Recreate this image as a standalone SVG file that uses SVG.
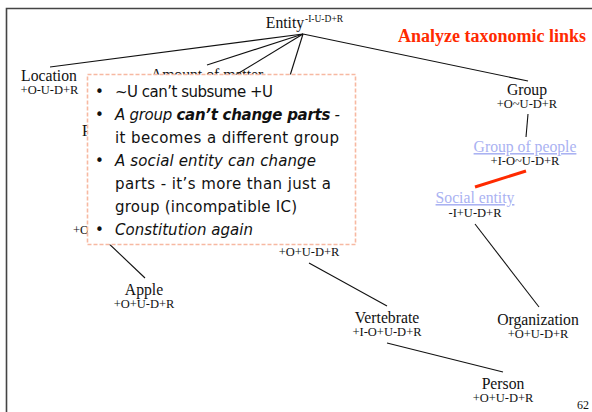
<svg xmlns="http://www.w3.org/2000/svg" width="592" height="412" viewBox="0 0 592 412">
  <style>
    .lbl { font-family: "Liberation Serif", "Times New Roman", serif; font-size: 15.7px; fill: #111; text-anchor: middle; }
    .sub { font-family: "Liberation Serif", "Times New Roman", serif; font-size: 12.5px; fill: #111; text-anchor: middle; }
    .start { text-anchor: start; }
    .link { fill: #aab2f2; text-decoration: underline; }
    .edge { stroke: #111; stroke-width: 1.1; fill: none; }
    .frame { stroke: #444; stroke-width: 1.6; fill: none; }
    .note { font-family: "DejaVu Sans", "Noto Sans", sans-serif; font-size: 15px; fill: #111; }
  </style>
  <rect width="592" height="412" fill="#fff"/>

  <!-- slide frame -->
  <path class="frame" d="M6.5 412 V8.5 H592"/>

  <!-- title -->
  <text x="492" y="42" text-anchor="middle" font-family="Liberation Serif, Times New Roman, serif" font-size="18px" font-weight="bold" fill="#ff2a00">Analyze taxonomic links</text>

  <!-- taxonomy edges -->
  <g id="connectors">
    <line class="edge" x1="303" y1="34" x2="50" y2="67"/>
    <line class="edge" x1="303" y1="34" x2="207" y2="65"/>
    <line class="edge" x1="303" y1="34" x2="224" y2="82"/>
    <line class="edge" x1="303" y1="34" x2="288" y2="82"/>
    <line class="edge" x1="303" y1="34" x2="528" y2="81"/>
    <line class="edge" x1="528" y1="114" x2="526" y2="137"/>
    <line x1="526" y1="171" x2="475" y2="187" stroke="#ff2a00" stroke-width="3"/>
    <line class="edge" x1="475" y1="224" x2="539" y2="307"/>
    <line class="edge" x1="104" y1="239" x2="145" y2="278"/>
    <line class="edge" x1="309" y1="263" x2="387" y2="306"/>
    <line class="edge" x1="387" y1="343" x2="503" y2="372"/>
  </g>

  <!-- nodes -->
  <g id="entity">
    <text class="lbl" x="285" y="28">Entity</text>
    <text x="305" y="22" font-family="Liberation Serif, Times New Roman, serif" font-size="9.5px" fill="#111">-I-U-D+R</text>
  </g>
  <g id="location">
    <text class="lbl" x="49" y="81">Location</text>
    <text class="sub" x="49.5" y="94">+O-U-D+R</text>
  </g>
  <g id="amount-of-matter">
    <text class="lbl" x="207" y="80">Amount of matter</text>
  </g>
  <g id="physical-object">
    <text class="lbl start" x="82" y="136">P</text>
  </g>
  <g id="fruit">
    <text class="sub start" x="73" y="234">+O</text>
  </g>
  <g id="group">
    <text class="lbl" x="527" y="95">Group</text>
    <text class="sub" x="527" y="107.5">+O~U-D+R</text>
  </g>
  <g id="group-of-people">
    <text class="lbl link" x="525" y="152">Group of people</text>
    <text class="sub" x="525" y="165">+I-O~U-D+R</text>
  </g>
  <g id="social-entity">
    <text class="lbl link" x="475" y="203">Social entity</text>
    <text class="sub" x="475" y="217">-I+U-D+R</text>
  </g>
  <g id="animal">
    <text class="sub" x="309" y="256">+O+U-D+R</text>
  </g>
  <g id="apple">
    <text class="lbl" x="144" y="295">Apple</text>
    <text class="sub" x="144" y="308">+O+U-D+R</text>
  </g>
  <g id="vertebrate">
    <text class="lbl" x="387" y="323">Vertebrate</text>
    <text class="sub" x="387" y="336">+I-O+U-D+R</text>
  </g>
  <g id="organization">
    <text class="lbl" x="538" y="325">Organization</text>
    <text class="sub" x="538" y="338">+O+U-D+R</text>
  </g>
  <g id="person">
    <text class="lbl" x="503" y="389">Person</text>
    <text class="sub" x="503" y="402">+O+U-D+R</text>
  </g>

  <!-- callout note -->
  <g id="note">
    <rect x="87.5" y="74.5" width="268" height="170" fill="#fff" stroke="#f7b9a2" stroke-width="1.6" stroke-dasharray="4 2"/>
    <g class="note">
      <text x="95" y="97">•</text>
      <text x="115" y="97" textLength="158">~U can’t subsume +U</text>
      <text x="95" y="120">•</text>
      <text x="115" y="120" font-style="italic" textLength="225">A group <tspan font-weight="bold">can’t change parts</tspan> -</text>
      <text x="115" y="143" textLength="224">it becomes a different group</text>
      <text x="95" y="166">•</text>
      <text x="115" y="166" font-style="italic" textLength="201">A social entity can change</text>
      <text x="115" y="189" textLength="216">parts - it’s more than just a</text>
      <text x="115" y="212" textLength="182">group (incompatible IC)</text>
      <text x="95" y="235">•</text>
      <text x="115" y="235" font-style="italic" textLength="138">Constitution again</text>
    </g>
  </g>

  <!-- page number -->
  <text x="583" y="409" text-anchor="middle" font-family="Liberation Serif, Times New Roman, serif" font-size="12px" fill="#111">62</text>
</svg>
